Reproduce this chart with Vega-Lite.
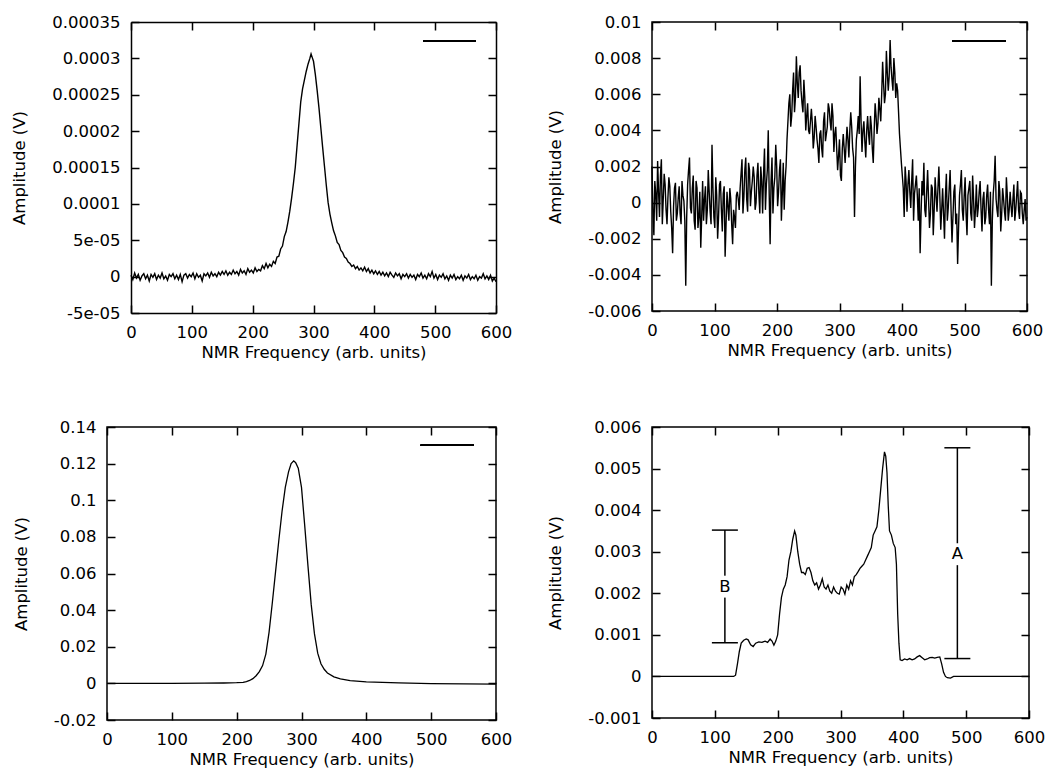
{
 "$schema": "https://vega.github.io/schema/vega-lite/v6.json",
 "padding": {"left": 11, "top": 13, "right": 0, "bottom": 0},
 "background": "white",
 "config": {
  "view": {"stroke": "black", "strokeWidth": 1.5},
  "axis": {"labelFont": "DejaVu Sans", "labelFontSize": 16.5, "labelColor": "black", "titleFont": "DejaVu Sans", "titleFontSize": 16.5, "titleFontWeight": "normal", "titleColor": "black", "grid": false, "domain": false, "domainColor": "black", "domainWidth": 1.5, "tickColor": "black", "tickWidth": 1.5, "tickSize": -8, "labelFlush": false, "labelOverlap": false, "labelPadding": 19},
  "axisX": {"titlePadding": 4},
  "axisY": {"titlePadding": 24},
  "line": {"color": "black", "strokeWidth": 1.3}
 },
 "columns": 2,
 "align": "none",
 "spacing": {"row": 57, "column": 34},
 "concat": [
   {
    "width": 389, "height": 291,
    "view": {"stroke": null},
    "data": {"values": [
{"x":0,"y":2e-6},{"x":3,"y":-4e-6},{"x":6,"y":5e-6},{"x":9,"y":-2e-6},{"x":12,"y":3e-6},{"x":15,"y":-5e-6},{"x":18,"y":1e-6},{"x":21,"y":4e-6},{"x":24,"y":-3e-6},{"x":27,"y":2e-6},{"x":30,"y":-6e-6},{"x":33,"y":3e-6},{"x":36,"y":-1e-6},{"x":39,"y":4e-6},{"x":42,"y":-4e-6},{"x":45,"y":2e-6},{"x":48,"y":-2e-6},{"x":51,"y":5e-6},{"x":54,"y":-3e-6},{"x":57,"y":1e-6},{"x":60,"y":-5e-6},{"x":63,"y":3e-6},{"x":66,"y":0},{"x":69,"y":4e-6},{"x":72,"y":-3e-6},{"x":75,"y":2e-6},{"x":78,"y":-4e-6},{"x":81,"y":3e-6},{"x":84,"y":-7e-6},{"x":87,"y":2e-6},{"x":90,"y":4e-6},{"x":93,"y":-2e-6},{"x":96,"y":3e-6},{"x":99,"y":0},{"x":102,"y":5e-6},{"x":105,"y":-3e-6},{"x":108,"y":4e-6},{"x":111,"y":-1e-6},{"x":114,"y":2e-6},{"x":117,"y":-6e-6},{"x":120,"y":4e-6},{"x":123,"y":1e-6},{"x":126,"y":5e-6},{"x":129,"y":-1e-6},{"x":132,"y":6e-6},{"x":135,"y":1e-6},{"x":138,"y":4e-6},{"x":141,"y":0},{"x":144,"y":6e-6},{"x":147,"y":2e-6},{"x":150,"y":7e-6},{"x":153,"y":3e-6},{"x":156,"y":8e-6},{"x":159,"y":2e-6},{"x":162,"y":6e-6},{"x":165,"y":3e-6},{"x":168,"y":9e-6},{"x":171,"y":4e-6},{"x":174,"y":7e-6},{"x":177,"y":2e-6},{"x":180,"y":10e-6},{"x":183,"y":5e-6},{"x":186,"y":8e-6},{"x":189,"y":3e-6},{"x":192,"y":11e-6},{"x":195,"y":6e-6},{"x":198,"y":9e-6},{"x":201,"y":5e-6},{"x":204,"y":12e-6},{"x":207,"y":7e-6},{"x":210,"y":10e-6},{"x":213,"y":8e-6},{"x":216,"y":15e-6},{"x":219,"y":11e-6},{"x":222,"y":18e-6},{"x":225,"y":12e-6},{"x":228,"y":17e-6},{"x":231,"y":14e-6},{"x":234,"y":21e-6},{"x":237,"y":18e-6},{"x":240,"y":27e-6},{"x":243,"y":28e-6},{"x":246,"y":38e-6},{"x":249,"y":42e-6},{"x":252,"y":55e-6},{"x":255,"y":62e-6},{"x":258,"y":75e-6},{"x":261,"y":90e-6},{"x":264,"y":108e-6},{"x":267,"y":128e-6},{"x":270,"y":150e-6},{"x":273,"y":180e-6},{"x":276,"y":210e-6},{"x":279,"y":240e-6},{"x":282,"y":258e-6},{"x":285,"y":270e-6},{"x":288,"y":282e-6},{"x":291,"y":292e-6},{"x":294,"y":300e-6},{"x":296,"y":306e-6},{"x":298,"y":301e-6},{"x":300,"y":296e-6},{"x":303,"y":278e-6},{"x":306,"y":256e-6},{"x":309,"y":232e-6},{"x":312,"y":205e-6},{"x":315,"y":178e-6},{"x":318,"y":152e-6},{"x":321,"y":126e-6},{"x":324,"y":102e-6},{"x":327,"y":86e-6},{"x":330,"y":74e-6},{"x":333,"y":63e-6},{"x":336,"y":56e-6},{"x":339,"y":47e-6},{"x":342,"y":44e-6},{"x":345,"y":36e-6},{"x":348,"y":33e-6},{"x":351,"y":27e-6},{"x":354,"y":25e-6},{"x":357,"y":20e-6},{"x":360,"y":18e-6},{"x":363,"y":14e-6},{"x":366,"y":16e-6},{"x":369,"y":11e-6},{"x":372,"y":14e-6},{"x":375,"y":9e-6},{"x":378,"y":12e-6},{"x":381,"y":8e-6},{"x":384,"y":13e-6},{"x":387,"y":7e-6},{"x":390,"y":11e-6},{"x":393,"y":5e-6},{"x":396,"y":9e-6},{"x":399,"y":4e-6},{"x":402,"y":8e-6},{"x":405,"y":3e-6},{"x":408,"y":7e-6},{"x":411,"y":2e-6},{"x":414,"y":6e-6},{"x":417,"y":1e-6},{"x":420,"y":5e-6},{"x":423,"y":0},{"x":426,"y":6e-6},{"x":429,"y":2e-6},{"x":432,"y":-1e-6},{"x":435,"y":5e-6},{"x":438,"y":1e-6},{"x":441,"y":4e-6},{"x":444,"y":-3e-6},{"x":447,"y":3e-6},{"x":450,"y":0},{"x":453,"y":4e-6},{"x":456,"y":-2e-6},{"x":459,"y":3e-6},{"x":462,"y":-1e-6},{"x":465,"y":2e-6},{"x":468,"y":-4e-6},{"x":471,"y":3e-6},{"x":474,"y":0},{"x":477,"y":5e-6},{"x":480,"y":-2e-6},{"x":483,"y":2e-6},{"x":486,"y":-3e-6},{"x":489,"y":4e-6},{"x":492,"y":0},{"x":495,"y":7e-6},{"x":498,"y":-2e-6},{"x":501,"y":3e-6},{"x":504,"y":-4e-6},{"x":507,"y":2e-6},{"x":510,"y":-1e-6},{"x":513,"y":4e-6},{"x":516,"y":-3e-6},{"x":519,"y":1e-6},{"x":522,"y":-5e-6},{"x":525,"y":2e-6},{"x":528,"y":-2e-6},{"x":531,"y":3e-6},{"x":534,"y":-4e-6},{"x":537,"y":0},{"x":540,"y":-3e-6},{"x":543,"y":2e-6},{"x":546,"y":-5e-6},{"x":549,"y":1e-6},{"x":552,"y":-2e-6},{"x":555,"y":3e-6},{"x":558,"y":-4e-6},{"x":561,"y":0},{"x":564,"y":-3e-6},{"x":567,"y":2e-6},{"x":570,"y":-5e-6},{"x":573,"y":0},{"x":576,"y":-2e-6},{"x":579,"y":4e-6},{"x":582,"y":-3e-6},{"x":585,"y":1e-6},{"x":588,"y":-4e-6},{"x":591,"y":2e-6},{"x":594,"y":-6e-6},{"x":597,"y":-2e-6},{"x":600,"y":-7e-6}
    ]},
    "layer": [
     {"mark": {"type": "line", "strokeWidth": 1.4},
      "encoding": {
       "x": {"field": "x", "type": "quantitative", "scale": {"domain": [0, 600], "nice": false, "range": [24, 389]}, "axis": {"orient": "bottom", "domain": true, "title": "NMR Frequency (arb. units)", "values": [0,100,200,300,400,500,600]}},
       "y": {"field": "y", "type": "quantitative", "scale": {"domain": [-0.00005, 0.00035], "nice": false, "zero": false}, "axis": {"orient": "left", "offset": -24, "domain": true, "title": "Amplitude (V)", "values": [-0.00005,0,0.00005,0.0001,0.00015,0.0002,0.00025,0.0003,0.00035], "labelExpr": "datum.value == 0.00005 ? '5e-05' : datum.value == -0.00005 ? '-5e-05' : toString(datum.value)"}}
      }},
     {"mark": {"type": "line", "opacity": 0},
      "encoding": {
       "x": {"field": "x", "type": "quantitative", "scale": {"domain": [0, 600], "nice": false, "range": [24, 389]}, "axis": {"orient": "top", "domain": true, "title": null, "labels": false, "values": [0,100,200,300,400,500,600]}},
       "y": {"field": "y", "type": "quantitative", "scale": {"domain": [-0.00005, 0.00035], "nice": false, "zero": false}, "axis": {"orient": "right", "domain": true, "title": null, "labels": false, "values": [-0.00005,0,0.00005,0.0001,0.00015,0.0002,0.00025,0.0003,0.00035]}}
      }},
     {"mark": {"type": "rule", "color": "black", "strokeWidth": 1.3},
      "encoding": {
       "x": {"datum": 480, "type": "quantitative", "axis": null},
       "x2": {"datum": 567},
       "y": {"datum": 0.000324, "type": "quantitative", "axis": null}
      }}
    ],
    "resolve": {"axis": {"x": "independent", "y": "independent"}}
   },
   {
    "width": 375, "height": 289,
    "data": {"values": [
{"x":0,"y":20e-4},{"x":3,"y":-18e-4},{"x":6,"y":5e-4},{"x":9,"y":23e-4},{"x":12,"y":-8e-4},{"x":15,"y":24e-4},{"x":18,"y":2e-4},{"x":21,"y":10e-4},{"x":24,"y":-12e-4},{"x":27,"y":14e-4},{"x":30,"y":-5e-4},{"x":33,"y":-28e-4},{"x":36,"y":8e-4},{"x":39,"y":-10e-4},{"x":42,"y":3e-4},{"x":45,"y":-6e-4},{"x":48,"y":12e-4},{"x":51,"y":1e-4},{"x":54,"y":-46e-4},{"x":57,"y":10e-4},{"x":60,"y":25e-4},{"x":63,"y":-6e-4},{"x":66,"y":15e-4},{"x":69,"y":-15e-4},{"x":72,"y":8e-4},{"x":75,"y":-8e-4},{"x":78,"y":-25e-4},{"x":81,"y":12e-4},{"x":84,"y":2e-4},{"x":87,"y":-12e-4},{"x":90,"y":18e-4},{"x":93,"y":-5e-4},{"x":96,"y":32e-4},{"x":99,"y":-8e-4},{"x":102,"y":14e-4},{"x":105,"y":-20e-4},{"x":108,"y":10e-4},{"x":111,"y":-4e-4},{"x":114,"y":5e-4},{"x":117,"y":-30e-4},{"x":120,"y":6e-4},{"x":123,"y":-10e-4},{"x":126,"y":2e-4},{"x":129,"y":-23e-4},{"x":132,"y":-8e-4},{"x":135,"y":4e-4},{"x":138,"y":2e-4},{"x":141,"y":8e-4},{"x":144,"y":24e-4},{"x":147,"y":3e-4},{"x":150,"y":25e-4},{"x":153,"y":-5e-4},{"x":156,"y":18e-4},{"x":159,"y":6e-4},{"x":162,"y":20e-4},{"x":165,"y":-4e-4},{"x":168,"y":15e-4},{"x":171,"y":5e-4},{"x":174,"y":20e-4},{"x":177,"y":-6e-4},{"x":180,"y":30e-4},{"x":183,"y":10e-4},{"x":186,"y":40e-4},{"x":189,"y":-23e-4},{"x":192,"y":25e-4},{"x":195,"y":8e-4},{"x":198,"y":32e-4},{"x":201,"y":-2e-4},{"x":204,"y":18e-4},{"x":207,"y":-10e-4},{"x":210,"y":22e-4},{"x":213,"y":12e-4},{"x":216,"y":35e-4},{"x":219,"y":55e-4},{"x":222,"y":42e-4},{"x":225,"y":62e-4},{"x":228,"y":50e-4},{"x":231,"y":81e-4},{"x":234,"y":58e-4},{"x":237,"y":76e-4},{"x":240,"y":55e-4},{"x":243,"y":68e-4},{"x":246,"y":40e-4},{"x":249,"y":55e-4},{"x":252,"y":38e-4},{"x":255,"y":52e-4},{"x":258,"y":30e-4},{"x":261,"y":48e-4},{"x":264,"y":35e-4},{"x":267,"y":22e-4},{"x":270,"y":40e-4},{"x":273,"y":25e-4},{"x":276,"y":50e-4},{"x":279,"y":38e-4},{"x":282,"y":55e-4},{"x":285,"y":45e-4},{"x":288,"y":55e-4},{"x":291,"y":28e-4},{"x":294,"y":42e-4},{"x":297,"y":18e-4},{"x":300,"y":35e-4},{"x":303,"y":12e-4},{"x":306,"y":38e-4},{"x":309,"y":22e-4},{"x":312,"y":42e-4},{"x":315,"y":25e-4},{"x":318,"y":50e-4},{"x":321,"y":30e-4},{"x":324,"y":-8e-4},{"x":327,"y":35e-4},{"x":330,"y":48e-4},{"x":333,"y":70e-4},{"x":336,"y":28e-4},{"x":339,"y":45e-4},{"x":342,"y":25e-4},{"x":345,"y":48e-4},{"x":348,"y":32e-4},{"x":351,"y":42e-4},{"x":354,"y":22e-4},{"x":357,"y":55e-4},{"x":360,"y":38e-4},{"x":363,"y":58e-4},{"x":366,"y":45e-4},{"x":369,"y":78e-4},{"x":372,"y":55e-4},{"x":375,"y":84e-4},{"x":378,"y":62e-4},{"x":381,"y":90e-4},{"x":384,"y":68e-4},{"x":387,"y":80e-4},{"x":390,"y":58e-4},{"x":393,"y":62e-4},{"x":396,"y":38e-4},{"x":399,"y":22e-4},{"x":402,"y":8e-4},{"x":405,"y":20e-4},{"x":408,"y":-5e-4},{"x":411,"y":18e-4},{"x":414,"y":-3e-4},{"x":417,"y":24e-4},{"x":420,"y":5e-4},{"x":423,"y":15e-4},{"x":426,"y":-10e-4},{"x":429,"y":-28e-4},{"x":432,"y":12e-4},{"x":435,"y":22e-4},{"x":438,"y":-8e-4},{"x":441,"y":18e-4},{"x":444,"y":-14e-4},{"x":447,"y":10e-4},{"x":450,"y":-18e-4},{"x":453,"y":14e-4},{"x":456,"y":-5e-4},{"x":459,"y":20e-4},{"x":462,"y":-15e-4},{"x":465,"y":8e-4},{"x":468,"y":-20e-4},{"x":471,"y":16e-4},{"x":474,"y":-3e-4},{"x":477,"y":18e-4},{"x":480,"y":-22e-4},{"x":483,"y":6e-4},{"x":486,"y":-12e-4},{"x":489,"y":-34e-4},{"x":492,"y":4e-4},{"x":495,"y":18e-4},{"x":498,"y":-10e-4},{"x":501,"y":14e-4},{"x":504,"y":-18e-4},{"x":507,"y":8e-4},{"x":510,"y":-6e-4},{"x":513,"y":15e-4},{"x":516,"y":-14e-4},{"x":519,"y":10e-4},{"x":522,"y":-3e-4},{"x":525,"y":12e-4},{"x":528,"y":-16e-4},{"x":531,"y":6e-4},{"x":534,"y":-8e-4},{"x":537,"y":10e-4},{"x":540,"y":-12e-4},{"x":543,"y":-46e-4},{"x":546,"y":5e-4},{"x":549,"y":26e-4},{"x":552,"y":-4e-4},{"x":555,"y":12e-4},{"x":558,"y":-16e-4},{"x":561,"y":8e-4},{"x":564,"y":-5e-4},{"x":567,"y":14e-4},{"x":570,"y":-10e-4},{"x":573,"y":6e-4},{"x":576,"y":-8e-4},{"x":579,"y":10e-4},{"x":582,"y":-4e-4},{"x":585,"y":12e-4},{"x":588,"y":-9e-4},{"x":591,"y":5e-4},{"x":594,"y":-12e-4},{"x":597,"y":2e-4},{"x":600,"y":-8e-4},
{"x":1.5,"y":-5e-4},{"x":4.5,"y":12e-4},{"x":7.5,"y":-10e-4},{"x":10.5,"y":6e-4},{"x":13.5,"y":15e-4},{"x":16.5,"y":-12e-4},{"x":19.5,"y":16e-4},{"x":22.5,"y":-4e-4},{"x":25.5,"y":3e-4},{"x":28.5,"y":9e-4},{"x":31.5,"y":-14e-4},{"x":34.5,"y":-2e-4},{"x":37.5,"y":11e-4},{"x":40.5,"y":-6e-4},{"x":43.5,"y":9e-4},{"x":46.5,"y":-12e-4},{"x":49.5,"y":4e-4},{"x":52.5,"y":-10e-4},{"x":55.5,"y":-8e-4},{"x":58.5,"y":18e-4},{"x":61.5,"y":-3e-4},{"x":64.5,"y":8e-4},{"x":67.5,"y":-10e-4},{"x":70.5,"y":12e-4},{"x":73.5,"y":-14e-4},{"x":76.5,"y":6e-4},{"x":79.5,"y":-8e-4},{"x":82.5,"y":-10e-4},{"x":85.5,"y":9e-4},{"x":88.5,"y":-4e-4},{"x":91.5,"y":6e-4},{"x":94.5,"y":-12e-4},{"x":97.5,"y":8e-4},{"x":100.5,"y":-14e-4},{"x":103.5,"y":4e-4},{"x":106.5,"y":-8e-4},{"x":109.5,"y":12e-4},{"x":112.5,"y":-16e-4},{"x":115.5,"y":9e-4},{"x":118.5,"y":-12e-4},{"x":121.5,"y":-2e-4},{"x":124.5,"y":8e-4},{"x":127.5,"y":-12e-4},{"x":130.5,"y":-4e-4},{"x":133.5,"y":-14e-4},{"x":136.5,"y":6e-4},{"x":139.5,"y":-4e-4},
{"x":142.5,"y":16e-4},{"x":145.5,"y":-6e-4},{"x":148.5,"y":18e-4},{"x":151.5,"y":2e-4},{"x":154.5,"y":22e-4},{"x":157.5,"y":-2e-4},{"x":160.5,"y":12e-4},{"x":163.5,"y":14e-4},{"x":166.5,"y":0},{"x":169.5,"y":22e-4},{"x":172.5,"y":-6e-4},{"x":175.5,"y":12e-4},{"x":178.5,"y":16e-4},{"x":181.5,"y":-4e-4},{"x":184.5,"y":18e-4},{"x":187.5,"y":5e-4},{"x":190.5,"y":12e-4},{"x":193.5,"y":-6e-4},{"x":196.5,"y":14e-4},{"x":199.5,"y":20e-4},{"x":202.5,"y":6e-4},{"x":205.5,"y":24e-4},{"x":208.5,"y":5e-4},{"x":211.5,"y":-4e-4},{"x":214.5,"y":20e-4},
{"x":217.5,"y":45e-4},{"x":220.5,"y":60e-4},{"x":223.5,"y":48e-4},{"x":226.5,"y":72e-4},{"x":229.5,"y":58e-4},{"x":232.5,"y":66e-4},{"x":235.5,"y":72e-4},{"x":238.5,"y":62e-4},{"x":241.5,"y":50e-4},{"x":244.5,"y":58e-4},
{"x":247.5,"y":48e-4},{"x":250.5,"y":40e-4},{"x":253.5,"y":45e-4},{"x":256.5,"y":44e-4},{"x":259.5,"y":36e-4},{"x":262.5,"y":42e-4},{"x":265.5,"y":30e-4},{"x":268.5,"y":38e-4},{"x":271.5,"y":30e-4},{"x":274.5,"y":45e-4},{"x":277.5,"y":34e-4},{"x":280.5,"y":42e-4},{"x":283.5,"y":52e-4},{"x":286.5,"y":40e-4},{"x":289.5,"y":48e-4},
{"x":292.5,"y":38e-4},{"x":295.5,"y":30e-4},{"x":298.5,"y":26e-4},{"x":301.5,"y":15e-4},{"x":304.5,"y":30e-4},{"x":307.5,"y":30e-4},{"x":310.5,"y":32e-4},
{"x":313.5,"y":35e-4},{"x":316.5,"y":40e-4},{"x":319.5,"y":42e-4},{"x":322.5,"y":25e-4},{"x":325.5,"y":20e-4},{"x":328.5,"y":40e-4},{"x":331.5,"y":38e-4},{"x":334.5,"y":45e-4},{"x":337.5,"y":40e-4},{"x":340.5,"y":34e-4},{"x":343.5,"y":40e-4},{"x":346.5,"y":38e-4},{"x":349.5,"y":48e-4},{"x":352.5,"y":30e-4},{"x":355.5,"y":40e-4},{"x":358.5,"y":48e-4},{"x":361.5,"y":44e-4},{"x":364.5,"y":52e-4},
{"x":367.5,"y":60e-4},{"x":370.5,"y":66e-4},{"x":373.5,"y":60e-4},{"x":376.5,"y":72e-4},{"x":379.5,"y":70e-4},{"x":382.5,"y":75e-4},{"x":385.5,"y":62e-4},{"x":388.5,"y":72e-4},{"x":391.5,"y":66e-4},{"x":394.5,"y":50e-4},
{"x":397.5,"y":30e-4},{"x":400.5,"y":15e-4},{"x":403.5,"y":-8e-4},{"x":406.5,"y":12e-4},{"x":409.5,"y":10e-4},{"x":412.5,"y":6e-4},{"x":415.5,"y":12e-4},{"x":418.5,"y":-10e-4},{"x":421.5,"y":10e-4},{"x":424.5,"y":4e-4},{"x":427.5,"y":8e-4},{"x":430.5,"y":-6e-4},{"x":433.5,"y":4e-4},{"x":436.5,"y":-4e-4},{"x":439.5,"y":6e-4},{"x":442.5,"y":2e-4},{"x":445.5,"y":-6e-4},{"x":448.5,"y":8e-4},{"x":451.5,"y":-4e-4},{"x":454.5,"y":4e-4},{"x":457.5,"y":8e-4},{"x":460.5,"y":4e-4},{"x":463.5,"y":-4e-4},{"x":466.5,"y":-6e-4},{"x":469.5,"y":4e-4},{"x":472.5,"y":-10e-4},{"x":475.5,"y":8e-4},{"x":478.5,"y":-4e-4},{"x":481.5,"y":-8e-4},{"x":484.5,"y":10e-4},{"x":487.5,"y":-6e-4},{"x":490.5,"y":-14e-4},{"x":493.5,"y":10e-4},{"x":496.5,"y":-4e-4},{"x":499.5,"y":4e-4},{"x":502.5,"y":-6e-4},{"x":505.5,"y":4e-4},{"x":508.5,"y":12e-4},{"x":511.5,"y":-10e-4},{"x":514.5,"y":2e-4},{"x":517.5,"y":-4e-4},{"x":520.5,"y":-8e-4},{"x":523.5,"y":6e-4},{"x":526.5,"y":-4e-4},{"x":529.5,"y":2e-4},{"x":532.5,"y":-12e-4},{"x":535.5,"y":4e-4},{"x":538.5,"y":-4e-4},{"x":541.5,"y":6e-4},{"x":544.5,"y":-10e-4},{"x":547.5,"y":12e-4},{"x":550.5,"y":2e-4},{"x":553.5,"y":-8e-4},{"x":556.5,"y":6e-4},{"x":559.5,"y":-6e-4},{"x":562.5,"y":2e-4},{"x":565.5,"y":-10e-4},{"x":568.5,"y":4e-4},{"x":571.5,"y":-4e-4},{"x":574.5,"y":-2e-4},{"x":577.5,"y":2e-4},{"x":580.5,"y":-10e-4},{"x":583.5,"y":4e-4},{"x":586.5,"y":-4e-4},{"x":589.5,"y":6e-4},{"x":592.5,"y":-6e-4},{"x":595.5,"y":-4e-4},{"x":598.5,"y":-10e-4}
    ]},
    "layer": [
     {"mark": {"type": "line", "strokeWidth": 1.4},
      "encoding": {
       "x": {"field": "x", "type": "quantitative", "scale": {"domain": [0, 600], "nice": false}, "axis": {"orient": "bottom", "title": "NMR Frequency (arb. units)", "values": [0,100,200,300,400,500,600]}},
       "y": {"field": "y", "type": "quantitative", "scale": {"domain": [-0.006, 0.01], "nice": false, "zero": false}, "axis": {"orient": "left", "title": "Amplitude (V)", "values": [-0.006,-0.004,-0.002,0,0.002,0.004,0.006,0.008,0.01], "labelExpr": "toString(datum.value)"}}
      }},
     {"mark": {"type": "line", "opacity": 0},
      "encoding": {
       "x": {"field": "x", "type": "quantitative", "scale": {"domain": [0, 600], "nice": false}, "axis": {"orient": "top", "title": null, "labels": false, "values": [0,100,200,300,400,500,600]}},
       "y": {"field": "y", "type": "quantitative", "scale": {"domain": [-0.006, 0.01], "nice": false, "zero": false}, "axis": {"orient": "right", "title": null, "labels": false, "values": [-0.006,-0.004,-0.002,0,0.002,0.004,0.006,0.008,0.01]}}
      }},
     {"mark": {"type": "rule", "color": "black", "strokeWidth": 1.5},
      "encoding": {
       "x": {"datum": 480, "type": "quantitative", "axis": null},
       "x2": {"datum": 565},
       "y": {"datum": 0.00893, "type": "quantitative", "axis": null}
      }}
    ],
    "resolve": {"axis": {"x": "independent", "y": "independent"}}
   },
   {
    "width": 389, "height": 293,
    "data": {"values": [
{"x":0,"y":0},{"x":50,"y":0},{"x":100,"y":0},{"x":150,"y":0.0001},{"x":180,"y":0.0002},{"x":200,"y":0.0004},{"x":210,"y":0.0006},{"x":215,"y":0.001},{"x":220,"y":0.0016},{"x":225,"y":0.0026},{"x":230,"y":0.0042},{"x":235,"y":0.0064},{"x":240,"y":0.0097},{"x":245,"y":0.016},{"x":250,"y":0.028},{"x":255,"y":0.044},{"x":260,"y":0.061},{"x":265,"y":0.078},{"x":270,"y":0.094},{"x":275,"y":0.107},{"x":280,"y":0.1155},{"x":284,"y":0.12},{"x":288,"y":0.1215},{"x":291,"y":0.1205},{"x":295,"y":0.1175},{"x":300,"y":0.107},{"x":305,"y":0.086},{"x":310,"y":0.064},{"x":315,"y":0.043},{"x":320,"y":0.027},{"x":325,"y":0.0165},{"x":330,"y":0.0107},{"x":335,"y":0.0077},{"x":340,"y":0.0057},{"x":350,"y":0.0036},{"x":360,"y":0.0025},{"x":375,"y":0.0015},{"x":400,"y":0.0008},{"x":450,"y":0.0003},{"x":500,"y":-0.0001},{"x":550,"y":-0.0003},{"x":600,"y":-0.0004}
    ]},
    "layer": [
     {"mark": {"type": "line"},
      "encoding": {
       "x": {"field": "x", "type": "quantitative", "scale": {"domain": [0, 600], "nice": false}, "axis": {"orient": "bottom", "title": "NMR Frequency (arb. units)", "values": [0,100,200,300,400,500,600]}},
       "y": {"field": "y", "type": "quantitative", "scale": {"domain": [-0.02, 0.14], "nice": false, "zero": false}, "axis": {"orient": "left", "title": "Amplitude (V)", "values": [-0.02,0,0.02,0.04,0.06,0.08,0.1,0.12,0.14], "labelExpr": "toString(datum.value)"}}
      }},
     {"mark": {"type": "line", "opacity": 0},
      "encoding": {
       "x": {"field": "x", "type": "quantitative", "scale": {"domain": [0, 600], "nice": false}, "axis": {"orient": "top", "title": null, "labels": false, "values": [0,100,200,300,400,500,600]}},
       "y": {"field": "y", "type": "quantitative", "scale": {"domain": [-0.02, 0.14], "nice": false, "zero": false}, "axis": {"orient": "right", "title": null, "labels": false, "values": [-0.02,0,0.02,0.04,0.06,0.08,0.1,0.12,0.14]}}
      }},
     {"mark": {"type": "rule", "color": "black", "strokeWidth": 1},
      "encoding": {
       "x": {"datum": 484, "type": "quantitative", "axis": null},
       "x2": {"datum": 566},
       "y": {"datum": 0.13, "type": "quantitative", "axis": null}
      }}
    ],
    "resolve": {"axis": {"x": "independent", "y": "independent"}}
   },
   {
    "width": 377, "height": 291,
    "data": {"values": [
{"x":0,"y":0},{"x":50,"y":0},{"x":100,"y":0},{"x":130,"y":0},{"x":133,"y":0.00003},{"x":136,"y":0.0003},{"x":139,"y":0.0006},{"x":142,"y":0.0008},{"x":146,"y":0.00087},{"x":150,"y":0.0009},{"x":153,"y":0.00088},{"x":157,"y":0.00076},{"x":161,"y":0.00072},{"x":165,"y":0.0008},{"x":170,"y":0.00083},{"x":175,"y":0.00082},{"x":180,"y":0.00085},{"x":184,"y":0.00082},{"x":188,"y":0.0009},{"x":191,"y":0.00085},{"x":194,"y":0.00075},{"x":197,"y":0.00085},{"x":200,"y":0.001},{"x":203,"y":0.0015},{"x":206,"y":0.0019},{"x":209,"y":0.0021},{"x":212,"y":0.0022},{"x":215,"y":0.0024},{"x":218,"y":0.0028},{"x":221,"y":0.003},{"x":224,"y":0.0033},{"x":227,"y":0.0035},{"x":229,"y":0.0034},{"x":232,"y":0.003},{"x":235,"y":0.0027},{"x":238,"y":0.0025},{"x":241,"y":0.0025},{"x":244,"y":0.00245},{"x":247,"y":0.0026},{"x":250,"y":0.00262},{"x":253,"y":0.0025},{"x":256,"y":0.0023},{"x":259,"y":0.0022},{"x":262,"y":0.00225},{"x":265,"y":0.0021},{"x":268,"y":0.0022},{"x":271,"y":0.00235},{"x":274,"y":0.00215},{"x":277,"y":0.0021},{"x":280,"y":0.0022},{"x":283,"y":0.00205},{"x":286,"y":0.002},{"x":289,"y":0.00215},{"x":292,"y":0.00205},{"x":295,"y":0.002},{"x":298,"y":0.00198},{"x":301,"y":0.00215},{"x":304,"y":0.0021},{"x":307,"y":0.00198},{"x":310,"y":0.0022},{"x":313,"y":0.0021},{"x":316,"y":0.0023},{"x":319,"y":0.0022},{"x":322,"y":0.0024},{"x":325,"y":0.00245},{"x":328,"y":0.00252},{"x":331,"y":0.0026},{"x":334,"y":0.00265},{"x":337,"y":0.0027},{"x":340,"y":0.0028},{"x":343,"y":0.0029},{"x":346,"y":0.003},{"x":349,"y":0.0031},{"x":352,"y":0.0034},{"x":355,"y":0.0035},{"x":358,"y":0.0036},{"x":361,"y":0.004},{"x":364,"y":0.0045},{"x":367,"y":0.005},{"x":370,"y":0.0054},{"x":372,"y":0.0053},{"x":374,"y":0.0049},{"x":376,"y":0.0041},{"x":378,"y":0.0035},{"x":381,"y":0.0034},{"x":384,"y":0.0032},{"x":387,"y":0.0031},{"x":389,"y":0.0027},{"x":391,"y":0.0015},{"x":393,"y":0.0008},{"x":395,"y":0.0004},{"x":398,"y":0.00038},{"x":402,"y":0.00042},{"x":406,"y":0.0004},{"x":410,"y":0.00043},{"x":414,"y":0.0004},{"x":418,"y":0.00042},{"x":422,"y":0.00047},{"x":426,"y":0.0005},{"x":430,"y":0.00045},{"x":434,"y":0.0004},{"x":438,"y":0.00042},{"x":442,"y":0.00045},{"x":446,"y":0.00046},{"x":450,"y":0.00044},{"x":454,"y":0.00046},{"x":458,"y":0.00047},{"x":461,"y":0.0003},{"x":464,"y":0.0001},{"x":467,"y":0},{"x":470,"y":-0.00003},{"x":475,"y":-0.00004},{"x":480,"y":0},{"x":500,"y":0},{"x":600,"y":0}
    ]},
    "layer": [
     {"mark": {"type": "line"},
      "encoding": {
       "x": {"field": "x", "type": "quantitative", "scale": {"domain": [0, 600], "nice": false}, "axis": {"orient": "bottom", "title": "NMR Frequency (arb. units)", "values": [0,100,200,300,400,500,600]}},
       "y": {"field": "y", "type": "quantitative", "scale": {"domain": [-0.001, 0.006], "nice": false, "zero": false}, "axis": {"orient": "left", "title": "Amplitude (V)", "values": [-0.001,0,0.001,0.002,0.003,0.004,0.005,0.006], "labelExpr": "toString(datum.value)"}}
      }},
     {"mark": {"type": "line", "opacity": 0},
      "encoding": {
       "x": {"field": "x", "type": "quantitative", "scale": {"domain": [0, 600], "nice": false}, "axis": {"orient": "top", "title": null, "labels": false, "values": [0,100,200,300,400,500,600]}},
       "y": {"field": "y", "type": "quantitative", "scale": {"domain": [-0.001, 0.006], "nice": false, "zero": false}, "axis": {"orient": "right", "title": null, "labels": false, "values": [-0.001,0,0.001,0.002,0.003,0.004,0.005,0.006]}}
      }},
     {"data": {"values": [{"label": "B", "x": 116, "lo": 0.00081, "hi": 0.00352, "ly": 0.00216}, {"label": "A", "x": 486, "lo": 0.00043, "hi": 0.0055, "ly": 0.00294}]},
      "layer": [
       {"mark": {"type": "rule", "color": "black", "strokeWidth": 1.5},
        "encoding": {"x": {"field": "x", "type": "quantitative", "axis": null}, "y": {"field": "lo", "type": "quantitative", "axis": null}, "y2": {"field": "hi"}}},
       {"mark": {"type": "tick", "orient": "horizontal", "color": "black", "size": 26, "thickness": 1.5, "opacity": 1},
        "encoding": {"x": {"field": "x", "type": "quantitative", "axis": null}, "y": {"field": "lo", "type": "quantitative", "axis": null}}},
       {"mark": {"type": "tick", "orient": "horizontal", "color": "black", "size": 26, "thickness": 1.5, "opacity": 1},
        "encoding": {"x": {"field": "x", "type": "quantitative", "axis": null}, "y": {"field": "hi", "type": "quantitative", "axis": null}}},
       {"mark": {"type": "square", "color": "white", "size": 480, "opacity": 1, "filled": true},
        "encoding": {"x": {"field": "x", "type": "quantitative", "axis": null}, "y": {"field": "ly", "type": "quantitative", "axis": null}}},
       {"mark": {"type": "text", "font": "DejaVu Sans", "fontSize": 16.5, "color": "black", "baseline": "middle", "align": "center"},
        "encoding": {"x": {"field": "x", "type": "quantitative", "axis": null}, "y": {"field": "ly", "type": "quantitative", "axis": null}, "text": {"field": "label"}}}
      ]}
    ],
    "resolve": {"axis": {"x": "independent", "y": "independent"}}
   }
 ]
}
